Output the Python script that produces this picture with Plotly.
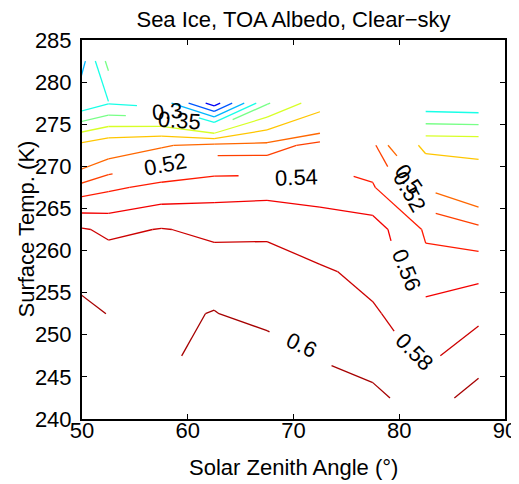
import math
import numpy as np
import plotly.graph_objects as go

nan = float("nan")

# ---------------- data ----------------
sza = [47.5, 52.5, 57.5, 62.5, 67.5, 72.5, 77.5, 82.5, 87.5]          # solar zenith angle (deg)
tsurf = [242.5, 247.5, 252.5, 257.5, 262.5, 267.5, 272.5, 277.5, 282.5]  # surface temperature (K)

# TOA clear-sky albedo over sea ice, one list per surface temperature (columns follow sza)
alb_2425 = [nan, nan, nan, nan, 0.630, 0.615, 0.604, 0.5917, 0.607]
alb_2475 = [nan, nan, 0.590, 0.616, 0.615, 0.598, 0.593, 0.5754, 0.592]
alb_2525 = [0.620, 0.599, 0.595, 0.601, 0.590, 0.591, 0.582, 0.570, 0.575]
alb_2575 = [0.598, 0.595, 0.590, 0.589, 0.585, 0.5825, 0.575, 0.545, 0.554]
alb_2625 = [0.590, 0.575, 0.581, 0.576, 0.578, 0.568, 0.569, 0.5376, 0.525]
alb_2675 = [0.515, 0.536, 0.546, 0.551, 0.552, 0.553, 0.542, 0.498, 0.478]
alb_2725 = [0.440, 0.483, 0.497, 0.510, 0.510, 0.528, 0.525, 0.438, 0.436]
alb_2775 = [0.225, 0.297, 0.280, 0.125, 0.345, 0.430, nan, 0.266, 0.260]
alb_2825 = [0.100, 0.366, nan, nan, nan, nan, nan, nan, nan]

levels = [0.15, 0.2, 0.25, 0.3, 0.35, 0.4, 0.45, 0.5, 0.52, 0.54, 0.56, 0.58, 0.6]
color_limits = [0.088, 0.62]

x_ticks = [50, 60, 70, 80, 90]
y_ticks = [240, 245, 250, 255, 260, 265, 270, 275, 280, 285]

# contour labels
label_text = ["0.3", "0.35", "0.52", "0.54", "0.5", "0.52", "0.56", "0.58", "0.6"]
label_level = [0.3, 0.35, 0.52, 0.54, 0.5, 0.52, 0.56, 0.58, 0.6]

# ---------------- layout constants ----------------
# the page body adds an 8 px margin, so the figure is 8 px smaller than the window
W, H = 511, 476
ML, MR, MT, MB = 74, 14, 32, 65
PW, PH = W - ML - MR, H - MT - MB
XR = (50, 90)
YR = (240, 285)
FONT = "Liberation Sans, Arial, Helvetica, sans-serif"
FS = 22

# label placement (data coords), rotation (deg, clockwise) and gap half-length (px)
label_pos_x = [58.1, 59.2, 57.85, 70.24, 80.9, 80.95, 80.64, 81.4, 70.8]
label_pos_y = [276.55, 275.4, 270.16, 268.73, 268.4, 267.0, 257.7, 248.0, 248.67]
label_angle = [-5, 4, -11, -2, 55, 60, 68, 45, 25]
label_gap = [30, 53, 53, 57, 26, 32, 32, 28, 35]


def to_px(x, y):
    return (ML + (x - XR[0]) / (XR[1] - XR[0]) * PW,
            MT + (YR[1] - y) / (YR[1] - YR[0]) * PH)


def to_data(px, py):
    return (XR[0] + (px - ML) / PW * (XR[1] - XR[0]),
            YR[1] - (py - MT) / PH * (YR[1] - YR[0]))


def jet(t):
    t = min(max(t, 0.0), 1.0)
    r = min(max(1.5 - abs(4 * t - 3), 0.0), 1.0)
    g = min(max(1.5 - abs(4 * t - 2), 0.0), 1.0)
    b = min(max(1.5 - abs(4 * t - 1), 0.0), 1.0)
    return "rgb(%d,%d,%d)" % (round(r * 255), round(g * 255), round(b * 255))


Z = np.array([alb_2425, alb_2475, alb_2525, alb_2575, alb_2625,
              alb_2675, alb_2725, alb_2775, alb_2825], dtype=float)
X = np.array(sza, dtype=float)
Y = np.array(tsurf, dtype=float)


def lerp(p1, p2, v1, v2, lev):
    f = (lev - v1) / (v2 - v1)
    return (p1[0] + f * (p2[0] - p1[0]), p1[1] + f * (p2[1] - p1[1]))


def contour_segments(lev):
    segs = []
    ny, nx = Z.shape
    for i in range(ny - 1):
        for j in range(nx - 1):
            zbl, zbr, ztr, ztl = Z[i, j], Z[i, j + 1], Z[i + 1, j + 1], Z[i + 1, j]
            if np.isnan([zbl, zbr, ztr, ztl]).any():
                continue
            pbl, pbr = (X[j], Y[i]), (X[j + 1], Y[i])
            ptr, ptl = (X[j + 1], Y[i + 1]), (X[j], Y[i + 1])
            a = [zbl > lev, zbr > lev, ztr > lev, ztl > lev]
            pts = {}
            if a[0] != a[1]:
                pts["b"] = lerp(pbl, pbr, zbl, zbr, lev)
            if a[1] != a[2]:
                pts["r"] = lerp(pbr, ptr, zbr, ztr, lev)
            if a[2] != a[3]:
                pts["t"] = lerp(ptr, ptl, ztr, ztl, lev)
            if a[3] != a[0]:
                pts["l"] = lerp(ptl, pbl, ztl, zbl, lev)
            if len(pts) == 2:
                k = list(pts.values())
                segs.append((k[0], k[1]))
            elif len(pts) == 4:
                center = (zbl + zbr + ztr + ztl) / 4 > lev
                if a[0]:
                    if center:
                        segs += [(pts["b"], pts["r"]), (pts["t"], pts["l"])]
                    else:
                        segs += [(pts["l"], pts["b"]), (pts["r"], pts["t"])]
                else:
                    if center:
                        segs += [(pts["l"], pts["b"]), (pts["r"], pts["t"])]
                    else:
                        segs += [(pts["b"], pts["r"]), (pts["t"], pts["l"])]
    return segs


def masked(px, py, lev):
    for k in range(len(label_text)):
        if abs(label_level[k] - lev) > 1e-9:
            continue
        cx, cy = to_px(label_pos_x[k], label_pos_y[k])
        ang = math.radians(label_angle[k])
        dx, dy = px - cx, py - cy
        along = dx * math.cos(ang) + dy * math.sin(ang)
        perp = -dx * math.sin(ang) + dy * math.cos(ang)
        if abs(along) < label_gap[k] and abs(perp) < 15:
            return True
    return False


fig = go.Figure()

for lev in levels:
    xs, ys = [], []
    for p1, p2 in contour_segments(lev):
        a = to_px(*p1)
        b = to_px(*p2)
        n = max(2, int(math.hypot(b[0] - a[0], b[1] - a[1]) / 0.7) + 2)
        runs, run = [], []
        for s in range(n):
            f = s / (n - 1)
            qx, qy = a[0] + f * (b[0] - a[0]), a[1] + f * (b[1] - a[1])
            if masked(qx, qy, lev):
                if len(run) >= 2:
                    runs.append(run)
                run = []
            else:
                run.append(to_data(qx, qy))
        if len(run) >= 2:
            runs.append(run)
        for r in runs:
            xs += [r[0][0], r[-1][0], None]
            ys += [r[0][1], r[-1][1], None]
    t = (lev - color_limits[0]) / (color_limits[1] - color_limits[0])
    fig.add_trace(go.Scatter(x=xs, y=ys, mode="lines",
                             line=dict(color=jet(t), width=1.3),
                             hoverinfo="skip", showlegend=False))

annotations = []
for k in range(len(label_text)):
    annotations.append(dict(x=label_pos_x[k], y=label_pos_y[k], xref="x", yref="y",
                            text=label_text[k], showarrow=False, textangle=label_angle[k],
                            xanchor="center", yanchor="middle",
                            font=dict(family=FONT, size=FS, color="black")))

annotations.append(dict(x=0.5, y=0, xref="paper", yref="paper", yanchor="middle",
                        yshift=-48, text="Solar Zenith Angle (°)", showarrow=False,
                        font=dict(family=FONT, size=FS, color="black")))
annotations.append(dict(x=0, y=0.5, xref="paper", yref="paper", xanchor="center",
                        xshift=-56, textangle=-90, text="Surface Temp. (K)", showarrow=False,
                        font=dict(family=FONT, size=FS, color="black")))

axis_common = dict(showgrid=False, zeroline=False, showline=True, linecolor="black",
                   linewidth=2, mirror="ticks", ticks="inside", ticklen=5, tickwidth=1,
                   tickcolor="black", automargin=False,
                   tickfont=dict(family=FONT, size=FS, color="black"))

fig.update_layout(
    template="none",
    width=W, height=H,
    margin=dict(l=ML, r=MR, t=MT, b=MB, pad=0, autoexpand=False),
    paper_bgcolor="white", plot_bgcolor="white",
    title=dict(text="Sea Ice, TOA Albedo, Clear\u2212sky", x=(ML + PW / 2) / W, xanchor="center",
               y=1 - 11 / H, yanchor="middle", yref="container", automargin=False,
               font=dict(family=FONT, size=FS, color="black")),
    xaxis=dict(range=list(XR), tickvals=x_ticks, ticktext=[str(v) for v in x_ticks],
               ticklabelstandoff=-9, **axis_common),
    yaxis=dict(range=list(YR), tickvals=y_ticks, ticktext=[str(v) for v in y_ticks],
               ticklabelstandoff=4, **axis_common),
    annotations=annotations,
)

fig.write_html("out.html")
